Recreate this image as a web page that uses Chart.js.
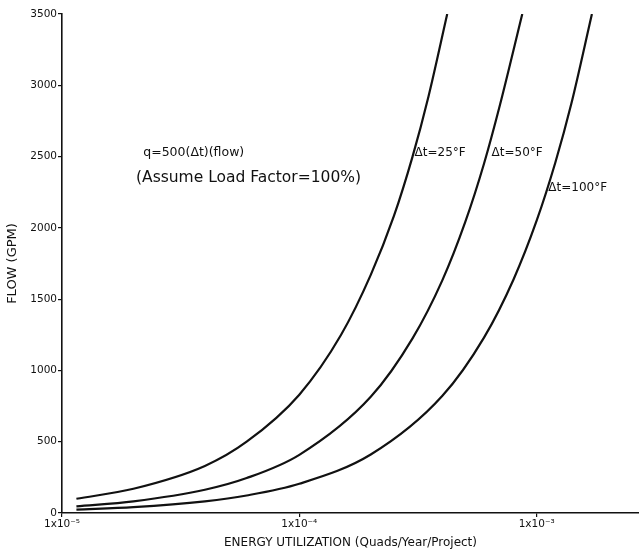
<!DOCTYPE html>
<html><head><meta charset="utf-8">
<script src="https://cdn.jsdelivr.net/npm/chart.js@4"></script>
<style>html,body{margin:0;padding:0;background:#fff}#wrap{width:639px;height:556px}</style>
</head><body><div id="wrap"><canvas id="c" width="639" height="556"></canvas></div>
<script>
// ---- data ----
const xTickValues = [1e-5, 1e-4, 1e-3];
const xTickLabels = ['1x10\u207B\u2075', '1x10\u207B\u2074', '1x10\u207B\u00B3'];
const yTickValues = [0, 500, 1000, 1500, 2000, 2500, 3000, 3500];
const seriesNames = ['\u0394t=25\u00B0F', '\u0394t=50\u00B0F', '\u0394t=100\u00B0F'];

const energy25 = [1.15e-5, 2e-5, 4e-5, 6e-5, 1e-4, 1.5e-4, 2e-4, 2.5e-4, 3e-4, 3.5e-4, 4.2e-4];
const flow25   = [100, 170, 330, 500, 830, 1250, 1670, 2080, 2500, 2920, 3500];

const energy50 = [1.15e-5, 2e-5, 4e-5, 6e-5, 1e-4, 2e-4, 3e-4, 4e-4, 5e-4, 6e-4, 7e-4, 8.7e-4];
const flow50   = [47, 82, 163, 245, 408, 815, 1225, 1630, 2040, 2450, 2860, 3500];

const energy100 = [1.15e-5, 2e-5, 4e-5, 6e-5, 1e-4, 2e-4, 4e-4, 6e-4, 8e-4, 1e-3, 1.2e-3, 1.4e-3, 1.71e-3];
const flow100   = [24, 41, 82, 123, 205, 410, 820, 1230, 1640, 2050, 2460, 2870, 3500];

const xTitle = 'ENERGY UTILIZATION (Quads/Year/Project)';
const yTitle = 'FLOW (GPM)';
const noteFormula = 'q=500(\u0394t)(flow)';
const noteAssume = '(Assume Load Factor=100%)';

// ---- chart ----
const FONT = '"DejaVu Sans", sans-serif';
function pts(xs, ys){ return xs.map((x,i)=>({x:x, y:ys[i]})); }
const lineStyle = {borderColor:'#111', borderWidth:2.2, pointRadius:0, fill:false, cubicInterpolationMode:'monotone'};

const annotations = [
  {text: noteFormula, x: 2.2e-5, y: 2525, size: 12.5},
  {text: noteAssume,  x: 2.05e-5, y: 2350, size: 15.5},
  {text: seriesNames[0], x: 3.06e-4, y: 2528, size: 12},
  {text: seriesNames[1], x: 6.46e-4, y: 2528, size: 12},
  {text: seriesNames[2], x: 1.12e-3, y: 2282, size: 12}
];

const textPlugin = {
  id: 'notes',
  afterDatasetsDraw(chart){
    const ctx = chart.ctx, xs = chart.scales.x, ys = chart.scales.y;
    ctx.save();
    ctx.fillStyle = '#111';
    ctx.textAlign = 'left';
    ctx.textBaseline = 'middle';
    annotations.forEach(a=>{
      ctx.font = a.size + 'px ' + FONT;
      ctx.fillText(a.text, xs.getPixelForValue(a.x), ys.getPixelForValue(a.y));
    });
    ctx.restore();
  }
};

new Chart(document.getElementById('c'), {
  type: 'line',
  data: {
    datasets: [
      Object.assign({label: seriesNames[0], data: pts(energy25, flow25)}, lineStyle),
      Object.assign({label: seriesNames[1], data: pts(energy50, flow50)}, lineStyle),
      Object.assign({label: seriesNames[2], data: pts(energy100, flow100)}, lineStyle)
    ]
  },
  options: {
    responsive: false,
    animation: false,
    devicePixelRatio: 1,
    layout: {padding: {top: 14, right: 0, left: 0, bottom: 0}},
    plugins: {legend: {display: false}, tooltip: {enabled: false}},
    scales: {
      x: {
        type: 'logarithmic', position: 'bottom',
        min: 1e-5, max: 2.7e-3,
        afterBuildTicks: s => { s.ticks = xTickValues.map(v=>({value: v})); },
        afterFit: s => { s.height = 43; },
        ticks: {
          autoSkip: false, maxRotation: 0, padding: 1, color: '#111',
          font: {family: FONT, size: 10.5},
          callback: (v) => { const i = xTickValues.indexOf(v); return i >= 0 ? xTickLabels[i] : ''; }
        },
        grid: {drawOnChartArea: false, drawTicks: true, tickLength: 4, color: '#111', lineWidth: 1.2},
        border: {display: true, color: '#111', width: 1.6},
        title: {display: true, text: xTitle, color: '#111', font: {family: FONT, size: 12}, padding: {top: 2, bottom: 6}}
      },
      y: {
        type: 'linear', position: 'left',
        min: 0, max: 3500,
        afterBuildTicks: s => { s.ticks = yTickValues.map(v=>({value: v})); },
        afterFit: s => { s.width = 62; },
        ticks: {color: '#111', padding: 1, font: {family: FONT, size: 10.5}, callback: v => String(v)},
        grid: {drawOnChartArea: false, drawTicks: true, tickLength: 4, color: '#111', lineWidth: 1.2},
        border: {display: true, color: '#111', width: 1.6},
        title: {display: true, text: yTitle, color: '#111', font: {family: FONT, size: 13}, padding: {top: 5, bottom: 0}}
      }
    }
  },
  plugins: [textPlugin]
});
</script>
</body></html>
